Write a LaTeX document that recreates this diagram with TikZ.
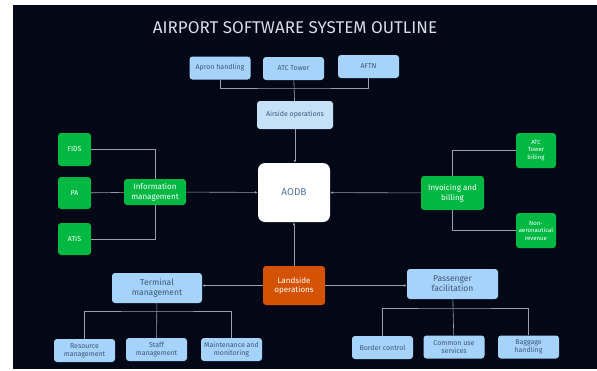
\documentclass[tikz,border=0pt]{standalone}
\usepackage{fontspec}
\setmainfont{Fira Sans}
\usetikzlibrary{arrows.meta}

\definecolor{bgnavy}{RGB}{3,7,22}
\definecolor{skyblue}{RGB}{166,211,250}
\definecolor{paleblue}{RGB}{196,225,248}
\definecolor{boxtext}{RGB}{58,88,124}
\definecolor{coretext}{RGB}{84,118,165}
\definecolor{leafgreen}{RGB}{0,184,66}
\definecolor{rust}{RGB}{212,82,4}
\definecolor{wire}{RGB}{150,160,172}
\definecolor{titlegrey}{RGB}{214,221,230}

\tikzset{
  bluebox/.style={fill=skyblue, text=boxtext, minimum width=61pt, minimum height=23pt},
  greenbox/.style={fill=leafgreen, text=white},
  wireline/.style={draw=wire, line width=0.6pt},
  arrowline/.style={wireline, -{Latex[length=3pt,width=2.6pt]}}
}

\begin{document}
\begin{tikzpicture}[x=1pt,y=-1pt]

      \useasboundingbox (0,0) rectangle (597,370);
      \fill[bgnavy] (13,5) rectangle (597,369);

      \node[text=titlegrey, font=\fontsize{17}{20}\selectfont] (title) at (295,28) {AIRPORT SOFTWARE SYSTEM OUTLINE};

      \begin{scope}[every node/.style={rounded corners=3pt, align=center, inner sep=1pt, font=\fontsize{7}{8}\selectfont}]
        % airside
        \node[bluebox] (apron)    at (220,68)    {Apron handling};
        \node[bluebox] (atc)      at (293.5,68.5) {ATC Tower};
        \node[bluebox] (aftn)     at (368.5,66.5) {AFTN};
        \node[bluebox, fill=paleblue, minimum width=76pt, minimum height=28pt] (airside) at (295,115) {Airside operations};

        % core
        \node[fill=white, text=coretext, rounded corners=7pt, minimum width=72pt, minimum height=59pt,
              font=\fontsize{10}{12}\selectfont] (aodb) at (294,192.5) {AODB};

        % information
        \node[greenbox, minimum width=33pt, minimum height=33pt] (fids) at (74.5,149.5) {FIDS};
        \node[greenbox, minimum width=33pt, minimum height=32pt] (pa)   at (74.5,193)   {PA};
        \node[greenbox, minimum width=33pt, minimum height=32pt] (atis) at (74.5,239)   {ATIS};
        \node[greenbox, minimum width=62pt, minimum height=26pt, font=\fontsize{8}{9.5}\selectfont] (info) at (155,192) {Information\\management};

        % billing
        \node[greenbox, minimum width=40pt, minimum height=35pt, font=\fontsize{6}{7.5}\selectfont] (atcbill) at (536,150.5) {ATC\\Tower\\billing};
        \node[greenbox, minimum width=40pt, minimum height=35pt, font=\fontsize{6}{7.5}\selectfont] (nonaero) at (536,230.5) {Non-\\aeronautical\\revenue};
        \node[greenbox, minimum width=63pt, minimum height=34pt, font=\fontsize{8}{9.5}\selectfont] (invoice) at (452.5,193) {Invoicing and\\billing};

        % landside
        \node[fill=rust, text=white, minimum width=62pt, minimum height=39pt, font=\fontsize{8}{9.5}\selectfont] (landside) at (294,285.5) {Landside\\operations};
        \node[bluebox, minimum width=90pt, minimum height=30pt, font=\fontsize{8.5}{10}\selectfont] (terminal)  at (157,288)   {Terminal\\management};
        \node[bluebox, minimum width=91pt, minimum height=30pt, font=\fontsize{8.5}{10}\selectfont] (passenger) at (452.5,284) {Passenger\\facilitation};

        \node[bluebox] (resource) at (84.5,350.5)  {Resource\\management};
        \node[bluebox] (staff)    at (156.5,349.5) {Staff\\management};
        \node[bluebox] (maint)    at (231.5,349.5) {Maintenance and\\monitoring};

        \node[bluebox] (border)   at (382.5,347.5) {Border control};
        \node[bluebox] (common)   at (454,347)     {Common use\\services};
        \node[bluebox] (baggage)  at (528.5,347)   {Baggage\\handling};
      \end{scope}

      \coordinate (topbus) at (294,88);
      \coordinate (termbus) at (157,311);
      \coordinate (passbus) at (454,308);

      \begin{scope}[every path/.style={wireline}]
        \draw (apron) |- (topbus) -| (aftn);
        \draw (atc) -- (airside);
        \draw (fids) -| (info);
        \draw (atis) -| (info);
        \draw (pa) -- (info);
        \draw (atcbill) -| (invoice);
        \draw (nonaero) -| (invoice);
        \draw (terminal) -- (staff);
        \draw (resource) |- (termbus) -| (maint);
        \draw (passenger) -- (common);
        \draw (border) |- (passbus) -| (baggage);
      \end{scope}

      \draw[arrowline] (airside.south) -- (airside.south |- aodb.north);
      \draw[arrowline] (info) -- (aodb);
      \draw[arrowline] (invoice) -- (aodb);
      \draw[arrowline] (landside) -- (landside |- aodb.south);
      \draw[arrowline] (landside.west) -- (landside.west -| terminal.east);
      \draw[arrowline] (landside.east) -- (landside.east -| passenger.west);

    \end{tikzpicture}
\end{document}
